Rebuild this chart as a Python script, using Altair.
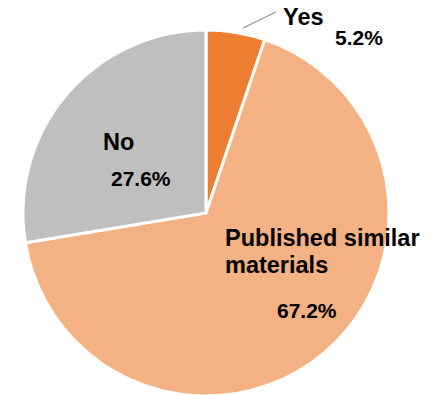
import altair as alt
import pandas as pd

categories = ["Yes", "Published similar materials", "No"]
shares = [5.2, 67.2, 27.6]
pct_labels = ["5.2%", "67.2%", "27.6%"]
colors = ["#ED7D31", "#F4B183", "#BFBFBF"]

df = pd.DataFrame({"category": categories, "share": shares,
                   "order": list(range(len(categories)))})

CX, CY, R = 206, 213, 183
FONT = "Liberation Sans"

pie = alt.Chart(df).mark_arc(outerRadius=R, stroke="white", strokeWidth=3).encode(
    theta=alt.Theta("share:Q", stack=True),
    order=alt.Order("order:Q"),
    color=alt.Color("category:N", scale=alt.Scale(domain=categories, range=colors), legend=None),
    x=alt.value(CX),
    y=alt.value(CY),
)

leader = alt.Chart(df).mark_rule(color="#A6A6A6", strokeWidth=1).encode(
    x=alt.value(243), y=alt.value(28), x2=alt.value(276), y2=alt.value(12)
)

# annotation text placement (label, x, y, size)
annots = [
    (categories[0], 283, 25, 23.5),
    (pct_labels[0], 335, 45, 21),
    (categories[2], 103, 150, 23.5),
    (pct_labels[2], 111, 186, 21),
    ("Published similar", 225, 246, 23.5),
    ("materials", 225, 273, 23.5),
    (pct_labels[1], 277, 318, 21),
]

layers = [pie, leader]
for txt, x, y, size in annots:
    layers.append(
        alt.Chart(pd.DataFrame({"t": [txt]})).mark_text(
            font=FONT, fontWeight="bold", fontSize=size, align="left",
            baseline="alphabetic", color="#000000"
        ).encode(text="t:N", x=alt.value(x), y=alt.value(y))
    )

chart = alt.layer(*layers).properties(
    width=443, height=395, padding=0, autosize=alt.AutoSizeParams(type="none")
).configure_view(stroke=None)

chart.save("out.html", embed_options={"renderer": "svg", "actions": False})
